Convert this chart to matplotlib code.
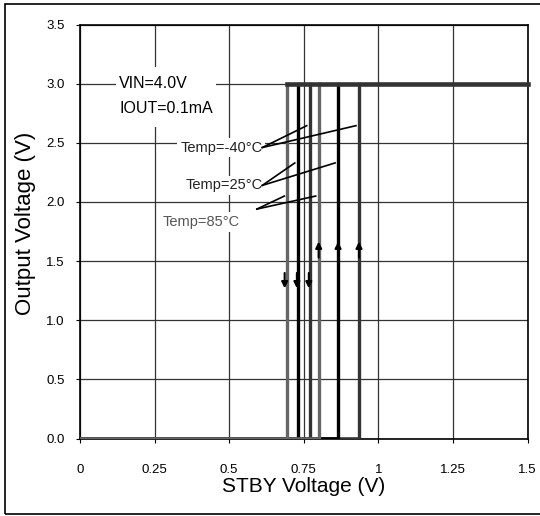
import matplotlib.pyplot as plt
from matplotlib.patches import Rectangle

plt.rcParams['font.family'] = ['Liberation Sans', 'DejaVu Sans']

# data
temps = ['-40°C', '25°C', '85°C']
v_rise = [0.935, 0.865, 0.80]   # STBY voltage where output turns on
v_fall = [0.77, 0.73, 0.695]    # STBY voltage where output turns off
v_out = 3.0
x_ticks = [0, 0.25, 0.5, 0.75, 1, 1.25, 1.5]
x_ticklabels = ['0', '0.25', '0.5', '0.75', '1', '1.25', '1.5']
y_ticks = [0, 0.5, 1.0, 1.5, 2.0, 2.5, 3.0, 3.5]
y_ticklabels = ['0.0', '0.5', '1.0', '1.5', '2.0', '2.5', '3.0', '3.5']

line_colors = ['#333333', '#000000', '#666666']
text_colors = ['#222222', '#222222', '#555555']
# label layout: text right edge, text y, leader start, leader end y
label_x = [0.611, 0.611, 0.534]
label_y = [2.46, 2.14, 1.83]
lead_start = [(0.611, 2.46), (0.611, 2.14), (0.593, 1.94)]
lead_end_y = [2.645, 2.33, 2.05]

fig = plt.figure(figsize=(5.4, 5.16), dpi=100)
ax = fig.add_axes([0.148, 0.150, 0.829, 0.8025])

ax.set_xlim(0, 1.5)
ax.set_ylim(0, 3.5)
ax.set_xticks(x_ticks)
ax.set_xticklabels(x_ticklabels)
ax.set_yticks(y_ticks)
ax.set_yticklabels(y_ticklabels)
ax.tick_params(axis='x', length=3, pad=15, labelsize=9.5)
ax.tick_params(axis='y', length=3, pad=8, labelsize=9.5)
for s in ax.spines.values():
    s.set_linewidth(1.2)
ax.grid(True, color='#333333', linewidth=0.9)
ax.set_axisbelow(True)

# hysteresis loops
for i in range(len(temps)):
    c = line_colors[i]
    ax.plot([0, v_rise[i]], [0, 0], color=c, lw=2.6, solid_capstyle='butt', zorder=3)
    ax.plot([v_rise[i], v_rise[i]], [0, v_out], color=c, lw=2.4, zorder=3)
    ax.plot([v_fall[i], v_fall[i]], [0, v_out], color=c, lw=2.4, zorder=3)
ax.plot([min(v_fall), 1.5], [v_out, v_out], color='#333333', lw=3.3,
        solid_capstyle='projecting', clip_on=False, zorder=4)

# direction arrows
for i in range(len(temps)):
    dx = -0.009 if i == 2 else -0.003
    ax.annotate('', xy=(v_fall[i] + dx, 1.27), xytext=(v_fall[i] + dx, 1.40),
                arrowprops=dict(arrowstyle='-|>', color='black', lw=1.5,
                                mutation_scale=9, shrinkA=0, shrinkB=0), zorder=5)
    ax.annotate('', xy=(v_rise[i], 1.665), xytext=(v_rise[i], 1.53),
                arrowprops=dict(arrowstyle='-|>', color='black', lw=1.5,
                                mutation_scale=9, shrinkA=0, shrinkB=0), zorder=5)

# condition box
ax.add_patch(Rectangle((0.12, 2.63), 0.337, 0.51, facecolor='white',
                       edgecolor='none', zorder=2))
ax.text(0.132, 3.0, 'VIN=4.0V', fontsize=11.5, va='center', zorder=6)
ax.text(0.132, 2.79, 'IOUT=0.1mA', fontsize=11.5, va='center', zorder=6)

# temperature labels with leader lines
for i in range(len(temps)):
    ax.text(label_x[i], label_y[i], 'Temp=' + temps[i], fontsize=10.5,
            ha='right', va='center', color=text_colors[i], zorder=6,
            bbox=dict(facecolor='white', edgecolor='none', pad=2))
    x0, y0 = lead_start[i]
    for xe in (v_fall[i], v_rise[i]):
        ax.plot([x0, xe - 0.01], [y0, lead_end_y[i]], color='black', lw=1.2, zorder=6)

ax.set_xlabel('STBY Voltage (V)', fontsize=15)
ax.xaxis.set_label_coords(0.5, -0.093)
ax.set_ylabel('Output Voltage (V)', fontsize=16)
ax.yaxis.set_label_coords(-0.098, 0.52)

# outer frame (right side falls off the canvas)
fig.patches.append(Rectangle((5 / 540, 1 - 514 / 516), 540 / 540, 510 / 516,
                             transform=fig.transFigure, fill=False,
                             edgecolor='black', linewidth=1.2))

fig.savefig('out.png', dpi=100)
